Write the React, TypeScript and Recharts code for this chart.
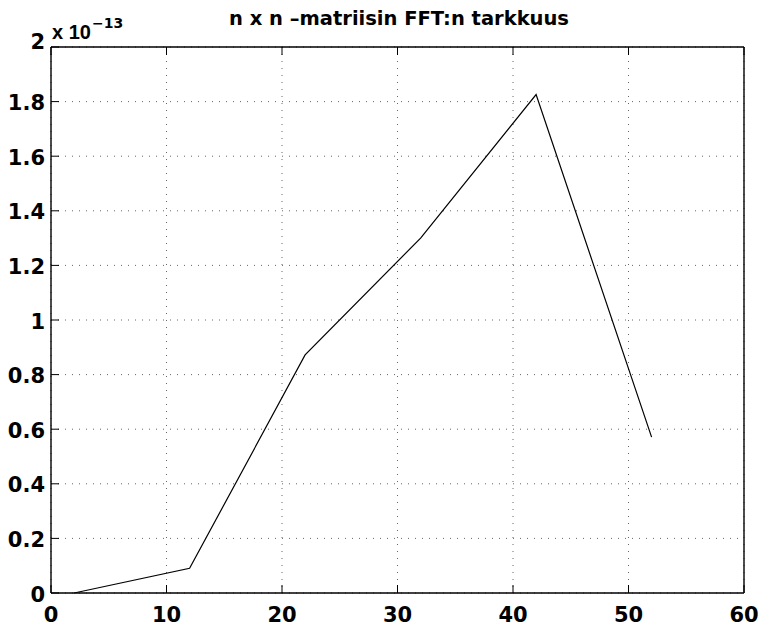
import React from "react";
import { LineChart, Line, XAxis, YAxis, CartesianGrid } from "recharts";

const xValues = [2, 12, 22, 32, 42, 52];
const yValues = [0, 0.0905, 0.872, 1.3, 1.826, 0.571];
const xTicks = [0, 10, 20, 30, 40, 50, 60];
const yTicks = [0, 0.2, 0.4, 0.6, 0.8, 1, 1.2, 1.4, 1.6, 1.8, 2];
const titleText = "n x n \u2013matriisin FFT:n tarkkuus";
const exponentBase = "x 10";
const exponentPower = "\u221213";

const data = xValues.map((x, i) => ({ x, y: yValues[i] }));

const FONT = "'DejaVu Sans', Verdana, sans-serif";
const FONT2 = "'Liberation Sans', Arial, Helvetica, sans-serif";
const TICK_FS = 21;
const TICK_LEN = 8;

const LeftTick = (props: any) => {
  const { x, y, payload } = props;
  const v = payload.value;
  const shift = v === 2 ? -7 : 0;
  return (
    <g>
      <line x1={x} y1={y} x2={x + TICK_LEN} y2={y} stroke="#000" strokeWidth={1} />
      <text
        x={x - 6}
        y={y + 8.5 + shift}
        textAnchor="end"
        fontFamily={FONT}
        fontWeight="bold"
        fontSize={TICK_FS}
        fill="#000"
      >
        {String(v)}
      </text>
    </g>
  );
};

const RightTick = (props: any) => {
  const { x, y } = props;
  return <line x1={x} y1={y} x2={x - TICK_LEN} y2={y} stroke="#000" strokeWidth={1} />;
};

const BottomTick = (props: any) => {
  const { x, y, payload } = props;
  return (
    <g>
      <line x1={x} y1={y} x2={x} y2={y - TICK_LEN} stroke="#000" strokeWidth={1} />
      <text
        x={x}
        y={y + 29}
        textAnchor="middle"
        fontFamily={FONT}
        fontWeight="bold"
        fontSize={TICK_FS}
        fill="#000"
      >
        {String(payload.value)}
      </text>
    </g>
  );
};

const TopTick = (props: any) => {
  const { x, y } = props;
  return <line x1={x} y1={y} x2={x} y2={y + TICK_LEN} stroke="#000" strokeWidth={1} />;
};

export default function App() {
  return (
    <div style={{ position: "absolute", left: 0, top: 0, width: 761, height: 630, background: "#fff" }}>
      <LineChart
        width={761}
        height={630}
        data={data}
        margin={{ top: 46, right: 16, bottom: 0, left: 0 }}
      >
        <CartesianGrid
          xAxisId="b"
          yAxisId="l"
          stroke="#666"
          strokeDasharray="1 6"
          strokeWidth={1}
        />
        <XAxis
          xAxisId="b"
          dataKey="x"
          type="number"
          domain={[0, 60]}
          ticks={xTicks}
          interval={0}
          height={37}
          tickSize={0}
          tickMargin={0}
          tickLine={false}
          axisLine={{ stroke: "#000", strokeWidth: 1.4 }}
          tick={<BottomTick />}
        />
        <XAxis
          xAxisId="t"
          orientation="top"
          dataKey="x"
          type="number"
          domain={[0, 60]}
          ticks={xTicks}
          interval={0}
          height={1}
          tickSize={0}
          tickMargin={0}
          tickLine={false}
          axisLine={{ stroke: "#000", strokeWidth: 1.4 }}
          tick={<TopTick />}
        />
        <YAxis
          yAxisId="l"
          type="number"
          domain={[0, 2]}
          ticks={yTicks}
          interval={0}
          width={51}
          tickSize={0}
          tickMargin={0}
          tickLine={false}
          axisLine={{ stroke: "#000", strokeWidth: 1.4 }}
          tick={<LeftTick />}
        />
        <YAxis
          yAxisId="r"
          orientation="right"
          type="number"
          domain={[0, 2]}
          ticks={yTicks}
          interval={0}
          width={1}
          tickSize={0}
          tickMargin={0}
          tickLine={false}
          axisLine={{ stroke: "#000", strokeWidth: 1.4 }}
          tick={<RightTick />}
        />
        <Line
          xAxisId="b"
          yAxisId="l"
          dataKey="y"
          type="linear"
          stroke="#000"
          strokeWidth={1.2}
          dot={false}
          activeDot={false}
          isAnimationActive={false}
        />
      </LineChart>
      <svg
        width={761}
        height={630}
        style={{ position: "absolute", left: 0, top: 0, pointerEvents: "none" }}
      >
        <text
          x={399}
          y={25}
          textAnchor="middle"
          fontFamily={FONT}
          fontWeight="bold"
          fontSize={19.5}
          fill="#000"
        >
          {titleText}
        </text>
        <text x={52} y={39} fontFamily={FONT2} fontWeight="bold" fontSize={20} fill="#000">
          {exponentBase}
          <tspan dx={1} dy={-11} fontFamily={FONT} fontSize={14}>
            {exponentPower}
          </tspan>
        </text>
      </svg>
    </div>
  );
}
